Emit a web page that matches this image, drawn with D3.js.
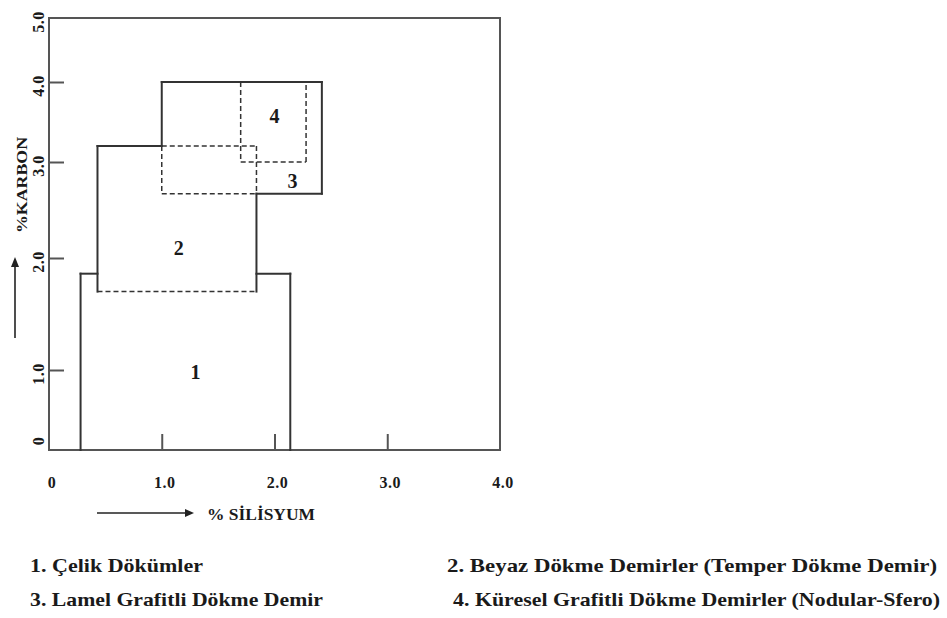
<!DOCTYPE html>
<html><head><meta charset="utf-8">
<script src="https://cdn.jsdelivr.net/npm/d3@7"></script>
<style>body{margin:0;background:#fff}</style>
</head><body>
<svg id="c" width="947" height="618"></svg>
<script>
// ---- data (Si %, C %) ----
const xTicks = [0, 1, 2, 3, 4];
const xTickLabels = ["0", "1.0", "2.0", "3.0", "4.0"];
const yTicks = [0, 1, 2, 3, 4, 5];
const yTickLabels = ["0", "1.0", "2.0", "3.0", "4.0", "5.0"];
// regions: [si min, si max, c min, c max]
const region1 = [0.28, 2.14, 0.00, 1.86];
const region2 = [0.43, 1.84, 1.70, 3.20];
const region3 = [1.00, 2.42, 2.67, 4.00];
const region4 = [1.70, 2.28, 3.00, 4.00];
// outline pieces [si1, c1, si2, c2]
const solidEdges = [
  [0.28, 0.00, 0.28, 1.86], [0.28, 1.86, 0.43, 1.86], [1.84, 1.86, 2.14, 1.86], [2.14, 1.86, 2.14, 0.00],
  [0.43, 1.70, 0.43, 3.20], [0.43, 3.20, 1.00, 3.20], [1.84, 2.67, 1.84, 1.70],
  [1.00, 3.20, 1.00, 4.00], [1.00, 4.00, 2.42, 4.00], [2.42, 4.00, 2.42, 2.67], [1.84, 2.67, 2.42, 2.67]
];
const dashedEdges = [
  [0.43, 1.70, 1.84, 1.70], [1.00, 3.20, 1.84, 3.20], [1.84, 3.20, 1.84, 2.67],
  [1.00, 3.20, 1.00, 2.67], [1.00, 2.67, 1.84, 2.67],
  [1.70, 4.00, 1.70, 3.00], [1.70, 3.00, 2.28, 3.00], [2.28, 3.00, 2.28, 4.00]
];
const regionIds = ["1", "2", "3", "4"];
const regionLabelSi = [1.30, 1.15, 2.16, 2.00];
const regionLabelC = [0.97, 2.10, 2.80, 3.57];
const legendItems = [
  "1. Çelik Dökümler",
  "2. Beyaz Dökme Demirler (Temper Dökme Demir)",
  "3. Lamel Grafitli Dökme Demir",
  "4. Küresel Grafitli Dökme Demirler (Nodular-Sfero)"
];
const xTitle = "% SİLİSYUM";
const yTitle = "%KARBON";

// ---- drawing ----
const svg = d3.select("#c");
const font = "'Liberation Serif', 'Times New Roman', serif";
const x = d3.scaleLinear().domain([0, 4]).range([49, 500]);
// scanned figure: axis spacing is uneven, follow the printed tick positions
const y = d3.scaleLinear().domain([0, 1, 2, 3, 4, 5]).range([450, 370, 258, 162, 82, 18]);
const ink = "#333";
const txt = "#1a1a1a";

// frame
svg.append("rect").attr("x", x(0)).attr("y", y(5))
  .attr("width", x(4) - x(0)).attr("height", y(0) - y(5))
  .attr("fill", "none").attr("stroke", "#555").attr("stroke-width", 2);

// inward ticks
svg.append("g").attr("transform", `translate(0,${y(0)})`)
  .call(d3.axisBottom(x).tickValues(xTicks.slice(1, -1)).tickSize(-16).tickFormat(""))
  .call(g => g.select(".domain").remove())
  .call(g => g.selectAll("line").attr("stroke", "#555").attr("stroke-width", 2));
svg.append("g").attr("transform", `translate(${x(0)},0)`)
  .call(d3.axisLeft(y).tickValues(yTicks.slice(1, -1)).tickSize(-15).tickFormat(""))
  .call(g => g.select(".domain").remove())
  .call(g => g.selectAll("line").attr("stroke", "#555").attr("stroke-width", 2));

// tick labels
svg.selectAll(".xl").data(xTicks).join("text")
  .attr("x", d => x(d) + 3).attr("y", 488)
  .attr("text-anchor", "middle").attr("font-family", font).attr("font-weight", "bold")
  .attr("font-size", 16).attr("letter-spacing", 0.5).attr("fill", txt)
  .text((d, i) => xTickLabels[i]);
svg.selectAll(".yl").data(yTicks).join("text")
  .attr("transform", d => `translate(44,${Math.min(y(d) + 4, y(0) - 9)}) rotate(-90)`)
  .attr("text-anchor", "middle").attr("font-family", font).attr("font-weight", "bold")
  .attr("font-size", 16).attr("letter-spacing", 0.5).attr("fill", txt)
  .text((d, i) => yTickLabels[i]);

// region outlines
const seg = (sel, data, dash, w) => sel.selectAll(null).data(data).join("line")
  .attr("x1", d => x(d[0])).attr("y1", d => y(d[1]))
  .attr("x2", d => x(d[2])).attr("y2", d => y(d[3]))
  .attr("stroke", ink).attr("stroke-width", w)
  .attr("stroke-dasharray", dash).attr("stroke-linecap", dash ? "butt" : "square");
seg(svg.append("g"), dashedEdges, "5,3", 1.5);
seg(svg.append("g"), solidEdges, null, 2);

// region numbers
svg.selectAll(".rn").data(regionIds).join("text")
  .attr("x", (d, i) => x(regionLabelSi[i])).attr("y", (d, i) => y(regionLabelC[i]))
  .attr("dy", "0.35em").attr("text-anchor", "middle")
  .attr("font-family", font).attr("font-weight", "bold").attr("font-size", 20).attr("fill", txt)
  .text(d => d);

// axis titles with arrows
const arrow = (x1, y1, x2, y2) => {
  svg.append("line").attr("x1", x1).attr("y1", y1).attr("x2", x2).attr("y2", y2)
    .attr("stroke", "#222").attr("stroke-width", 1.6);
};
arrow(97, 513, 186, 513);
svg.append("path").attr("d", "M185,509 L194,513 L185,517 Z").attr("fill", "#222");
svg.append("text").attr("x", 207).attr("y", 520)
  .attr("font-family", font).attr("font-weight", "bold").attr("font-size", 16).attr("fill", txt)
  .attr("textLength", 108).attr("lengthAdjust", "spacingAndGlyphs").text(xTitle);

arrow(15, 338, 15, 266);
svg.append("path").attr("d", "M11,267 L15,257 L19,267 Z").attr("fill", "#222");
svg.append("text").attr("transform", "translate(27,185) rotate(-90)")
  .attr("text-anchor", "middle")
  .attr("font-family", font).attr("font-weight", "bold").attr("font-size", 15).attr("fill", txt)
  .attr("textLength", 96).attr("lengthAdjust", "spacingAndGlyphs").text(yTitle);

// legend
const legX = [30, 447, 30, 453];
const legY = [572, 572, 606, 606];
const legW = [173, 490, 293, 487];
svg.selectAll(".lg").data(legendItems).join("text")
  .attr("x", (d, i) => legX[i]).attr("y", (d, i) => legY[i])
  .attr("font-family", font).attr("font-weight", "bold").attr("font-size", 19).attr("fill", txt)
  .attr("textLength", (d, i) => legW[i]).attr("lengthAdjust", "spacingAndGlyphs")
  .text(d => d);
</script>
</body></html>
